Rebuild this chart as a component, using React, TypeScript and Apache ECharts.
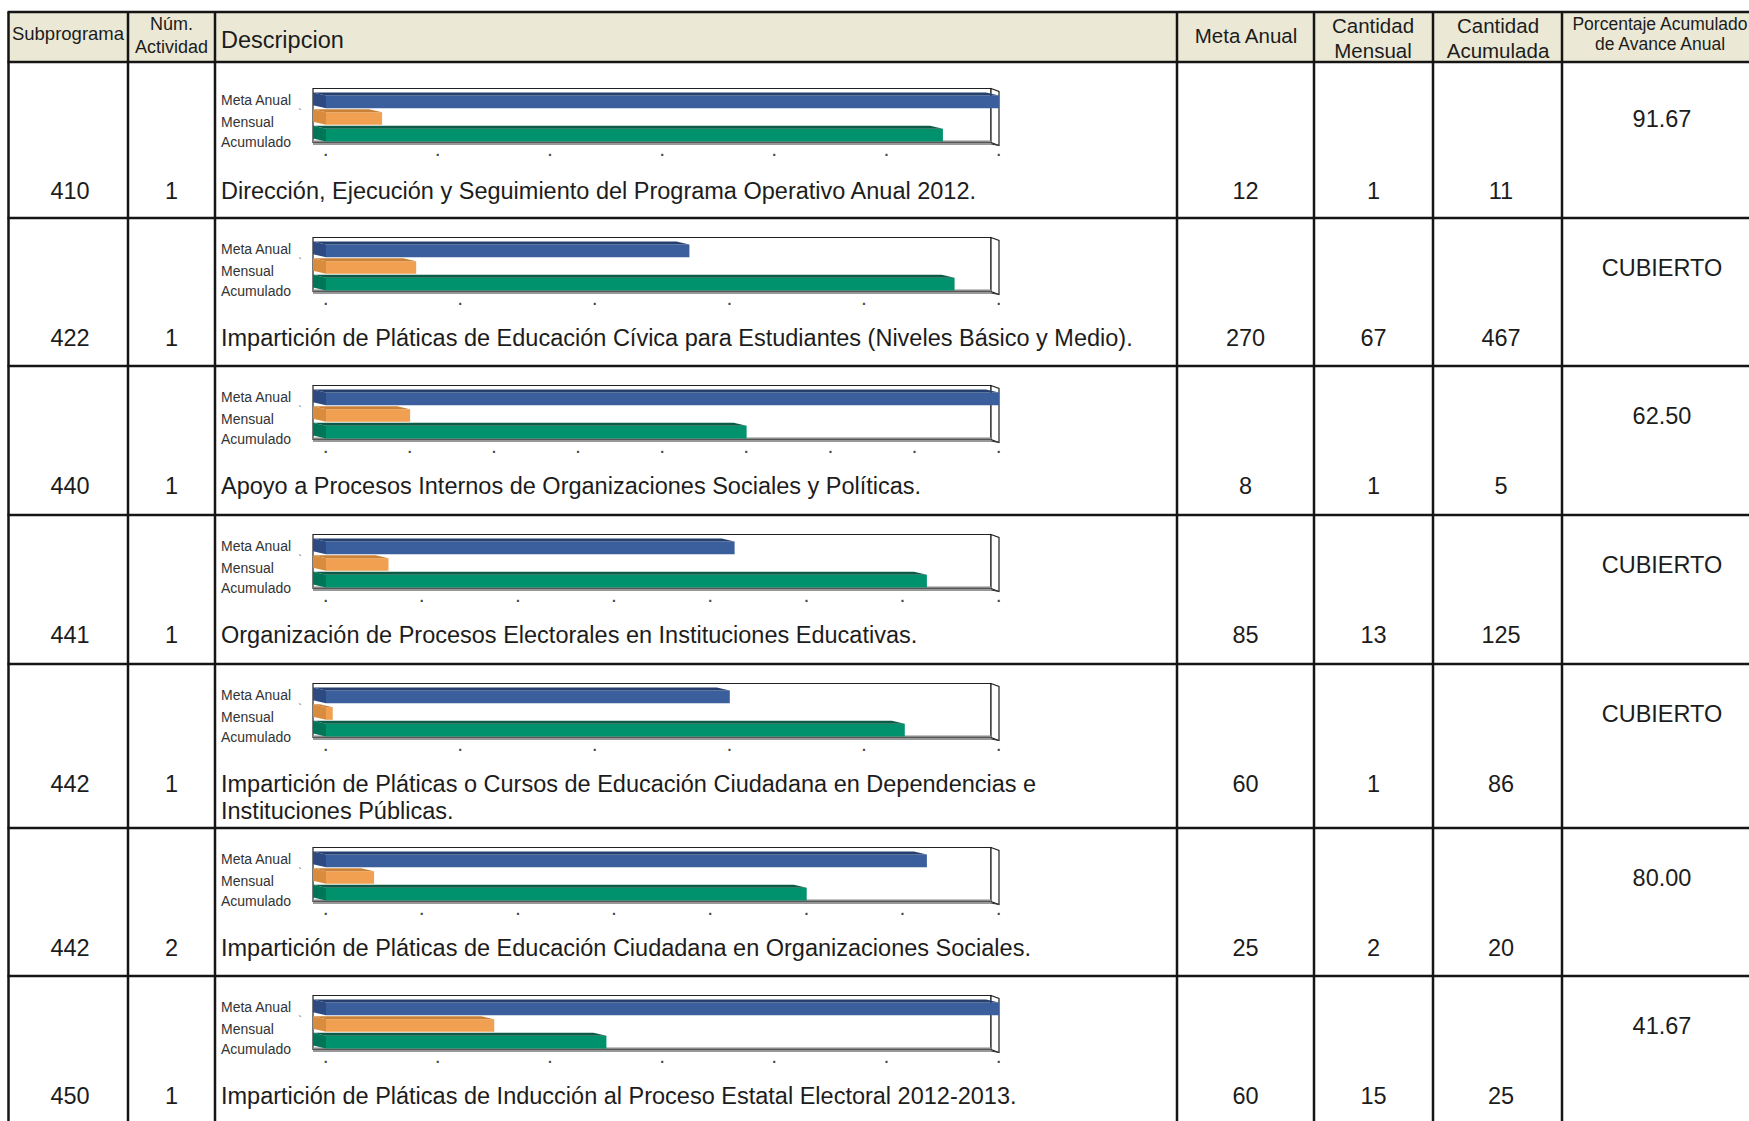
import React, { useEffect, useRef } from 'react';
import * as echarts from 'echarts';

// ---------- DATA ----------
const subprogramas = ['410', '422', '440', '441', '442', '442', '450'];
const actividades = ['1', '1', '1', '1', '1', '2', '1'];
const descripciones = [
  'Dirección, Ejecución y Seguimiento del Programa Operativo Anual 2012.',
  'Impartición de Pláticas de Educación Cívica para Estudiantes (Niveles Básico y Medio).',
  'Apoyo a Procesos Internos de Organizaciones Sociales y Políticas.',
  'Organización de Procesos Electorales en Instituciones Educativas.',
  'Impartición de Pláticas o Cursos de Educación Ciudadana en Dependencias e\nInstituciones Públicas.',
  'Impartición de Pláticas de Educación Ciudadana en Organizaciones Sociales.',
  'Impartición de Pláticas de Inducción al Proceso Estatal Electoral 2012-2013.',
];
const metaAnual = [12, 270, 8, 85, 60, 25, 60];
const cantidadMensual = [1, 67, 1, 13, 1, 2, 15];
const cantidadAcumulada = [11, 467, 5, 125, 86, 20, 25];
const porcentajes = ['91.67', 'CUBIERTO', '62.50', 'CUBIERTO', 'CUBIERTO', '80.00', '41.67'];
const ejeMax = [12, 500, 8, 140, 100, 28, 60];
const ejeIntervalo = [2, 100, 1, 20, 20, 4, 10];
const barCategories = ['Meta Anual', 'Mensual', 'Acumulado'];

// ---------- LAYOUT ----------
const W = 1749;
const H = 1121;
const FONT = '"Liberation Sans", Arial, Helvetica, sans-serif';
const colX = [8.5, 128, 215, 1177, 1314, 1433, 1562];
const rowY = [62, 218, 366, 515, 664, 828, 976];
const headerTop = 12;
const lineColor = '#151515';
const textColor = '#1c1c1c';
const headerBg = '#EBE9D5';

const BOX_L = 313;
const BOX_R = 991;
const BOX_H = 54;
const ZERO_X = 326;
const END_X = 999;
const D = 13;
const E = 3;
const ROW_FONT = 23.5;

const palette = [
  { main: '#3B5E9C', top: '#25406E', side: '#2D4B82' },
  { main: '#F0A050', top: '#C98238', side: '#D98C3E' },
  { main: '#00916D', top: '#0B5B46', side: '#007658' },
];

function boxTop(i: number) {
  return rowY[i] + (i === 0 ? 26.5 : 19.5);
}
function textY(i: number) {
  return rowY[i] + (i === 0 ? 129 : 120);
}
function pctY(i: number) {
  return rowY[i] + (i === 0 ? 57 : 50);
}

function txt(text: string, x: number, y: number, size: number, align = 'center', vAlign = 'middle', extra: any = {}) {
  return {
    type: 'text',
    x,
    y,
    silent: true,
    style: {
      text,
      fill: textColor,
      fontSize: size,
      fontFamily: FONT,
      align,
      verticalAlign: vAlign,
      ...extra,
    },
  };
}

function buildOption() {
  const graphics: any[] = [];
  // header background
  graphics.push({
    type: 'rect',
    shape: { x: colX[0], y: headerTop, width: W + 20 - colX[0], height: rowY[0] - headerTop },
    style: { fill: headerBg },
    z: -10,
  });
  // horizontal lines
  [headerTop, ...rowY].forEach((y) => {
    graphics.push({
      type: 'line',
      shape: { x1: colX[0] - 1, y1: y, x2: W + 20, y2: y },
      style: { stroke: lineColor, lineWidth: 2.5 },
    });
  });
  // vertical lines
  colX.forEach((x) => {
    graphics.push({
      type: 'line',
      shape: { x1: x, y1: headerTop, x2: x, y2: H + 10 },
      style: { stroke: lineColor, lineWidth: 2.5 },
    });
  });
  // header texts
  graphics.push(txt('Subprograma', 68, 33, 18.5));
  graphics.push(txt('Núm.', 171.5, 24, 18));
  graphics.push(txt('Actividad', 171.5, 46.5, 18));
  graphics.push(txt('Descripcion', 221, 40, 23.5, 'left'));
  graphics.push(txt('Meta Anual', 1246, 35, 20.5));
  graphics.push(txt('Cantidad', 1373, 25.5, 20.5));
  graphics.push(txt('Mensual', 1373, 50, 20.5));
  graphics.push(txt('Cantidad', 1498, 25.5, 20.5));
  graphics.push(txt('Acumulada', 1498, 50, 20.5));
  graphics.push(txt('Porcentaje Acumulado', 1660, 23.5, 17.5));
  graphics.push(txt('de Avance Anual', 1660, 43.5, 17.5));

  const grids: any[] = [];
  const xAxes: any[] = [];
  const yAxes: any[] = [];
  const series: any[] = [];

  subprogramas.forEach((sub, i) => {
    const ty = textY(i) - 13.5;
    graphics.push(txt(sub, 70, ty, ROW_FONT, 'center', 'top', { lineHeight: 27 }));
    graphics.push(txt(actividades[i], 171.5, ty, ROW_FONT, 'center', 'top', { lineHeight: 27 }));
    graphics.push(txt(descripciones[i], 221, ty, ROW_FONT, 'left', 'top', { lineHeight: 27 }));
    graphics.push(txt(String(metaAnual[i]), 1245.5, ty, ROW_FONT, 'center', 'top', { lineHeight: 27 }));
    graphics.push(txt(String(cantidadMensual[i]), 1373.5, ty, ROW_FONT, 'center', 'top', { lineHeight: 27 }));
    graphics.push(txt(String(cantidadAcumulada[i]), 1501, ty, ROW_FONT, 'center', 'top', { lineHeight: 27 }));
    graphics.push(txt(porcentajes[i], 1662, pctY(i), ROW_FONT));

    const bt = boxTop(i);
    // back wall box
    graphics.push({
      type: 'rect',
      shape: { x: BOX_L, y: bt, width: BOX_R - BOX_L, height: BOX_H },
      style: { fill: '#fff', stroke: '#222', lineWidth: 1.2 },
      z: -5,
    });
    // right wall
    graphics.push({
      type: 'polygon',
      shape: { points: [[BOX_R, bt], [END_X, bt + 3], [END_X, bt + BOX_H + 3], [BOX_R, bt + BOX_H]] },
      style: { fill: '#fff', stroke: '#222', lineWidth: 1.2 },
      z: -5,
    });
    // floor
    graphics.push({
      type: 'line',
      shape: { x1: BOX_L, y1: bt + BOX_H - 1, x2: BOX_R, y2: bt + BOX_H - 1 },
      style: { stroke: '#8a8a8a', lineWidth: 2 },
      z: -4,
    });
    graphics.push({
      type: 'polyline',
      shape: { points: [[BOX_L, bt + BOX_H + 1.5], [BOX_R, bt + BOX_H + 1.5], [END_X, bt + BOX_H + 3]] },
      style: { stroke: '#333', lineWidth: 1.2, fill: null },
      z: -4,
    });
    graphics.push(txt('`', 300, bt + 24, 11, 'center', 'middle', { fill: '#555' }));

    grids.push({
      left: ZERO_X,
      top: bt + 3.5,
      width: END_X - ZERO_X,
      height: 50,
      containLabel: false,
    });
    xAxes.push({
      type: 'value',
      gridIndex: i,
      min: 0,
      max: ejeMax[i],
      interval: ejeIntervalo[i],
      axisLine: { show: false },
      axisTick: { show: false },
      splitLine: { show: false },
      axisLabel: {
        show: true,
        margin: 6,
        formatter: () => '·',
        color: '#444',
        fontSize: 14,
        fontWeight: 'bold',
        fontFamily: FONT,
      },
    });
    yAxes.push({
      type: 'category',
      gridIndex: i,
      inverse: true,
      data: barCategories,
      axisLine: { show: false },
      axisTick: { show: false },
      splitLine: { show: false },
      axisLabel: {
        interval: 0,
        hideOverlap: false,
        align: 'left',
        margin: ZERO_X - 221,
        color: '#333',
        fontSize: 14,
        fontFamily: FONT,
        formatter: (v: string, idx: number) => `{l${idx}|${v}}`,
        rich: {
          l0: { fontSize: 14, fontFamily: FONT, color: '#333', padding: [0, 0, 0, 0] },
          l1: { fontSize: 14, fontFamily: FONT, color: '#333', padding: [10, 0, 0, 0] },
          l2: { fontSize: 14, fontFamily: FONT, color: '#333', padding: [16, 0, 0, 0] },
        },
      },
    });
    series.push({
      type: 'custom',
      xAxisIndex: i,
      yAxisIndex: i,
      clip: false,
      encode: { x: 0, y: 1 },
      data: [
        [metaAnual[i], 0],
        [cantidadMensual[i], 1],
        [cantidadAcumulada[i], 2],
      ],
      renderItem: (params: any, api: any) => {
        const v = api.value(0);
        const c = api.value(1);
        const p0 = api.coord([0, c]);
        const p1 = api.coord([v, c]);
        const band = api.size([0, 1])[1];
        const h = band * 0.94;
        const top = p0[1] - h / 2;
        const bot = p0[1] + h / 2;
        const x0 = p0[0];
        const x1 = p1[0];
        const col = palette[c];
        return {
          type: 'group',
          children: [
            {
              type: 'polygon',
              shape: { points: [[x0 - D, top], [x0, top + E], [x0, bot], [x0 - D, bot - E]] },
              style: { fill: col.side },
            },
            {
              type: 'rect',
              shape: { x: x0, y: top + E, width: Math.max(0, x1 - x0), height: bot - top - E },
              style: { fill: col.main },
            },
            {
              type: 'polygon',
              shape: { points: [[x0 - D, top], [x1 - D, top], [x1, top + E], [x0, top + E]] },
              style: { fill: col.top },
            },
          ],
        };
      },
    });
  });

  return {
    animation: false,
    backgroundColor: '#ffffff',
    textStyle: { fontFamily: FONT },
    grid: grids,
    xAxis: xAxes,
    yAxis: yAxes,
    series,
    graphic: { elements: graphics },
  };
}

export default function App() {
  const ref = useRef<HTMLDivElement>(null);
  useEffect(() => {
    document.body.style.margin = '0';
    if (!ref.current) return;
    const chart = echarts.init(ref.current, undefined, { renderer: 'svg', width: W, height: H });
    chart.setOption(buildOption() as any);
    return () => chart.dispose();
  }, []);
  return <div ref={ref} style={{ width: W, height: H, overflow: 'hidden' }} />;
}
